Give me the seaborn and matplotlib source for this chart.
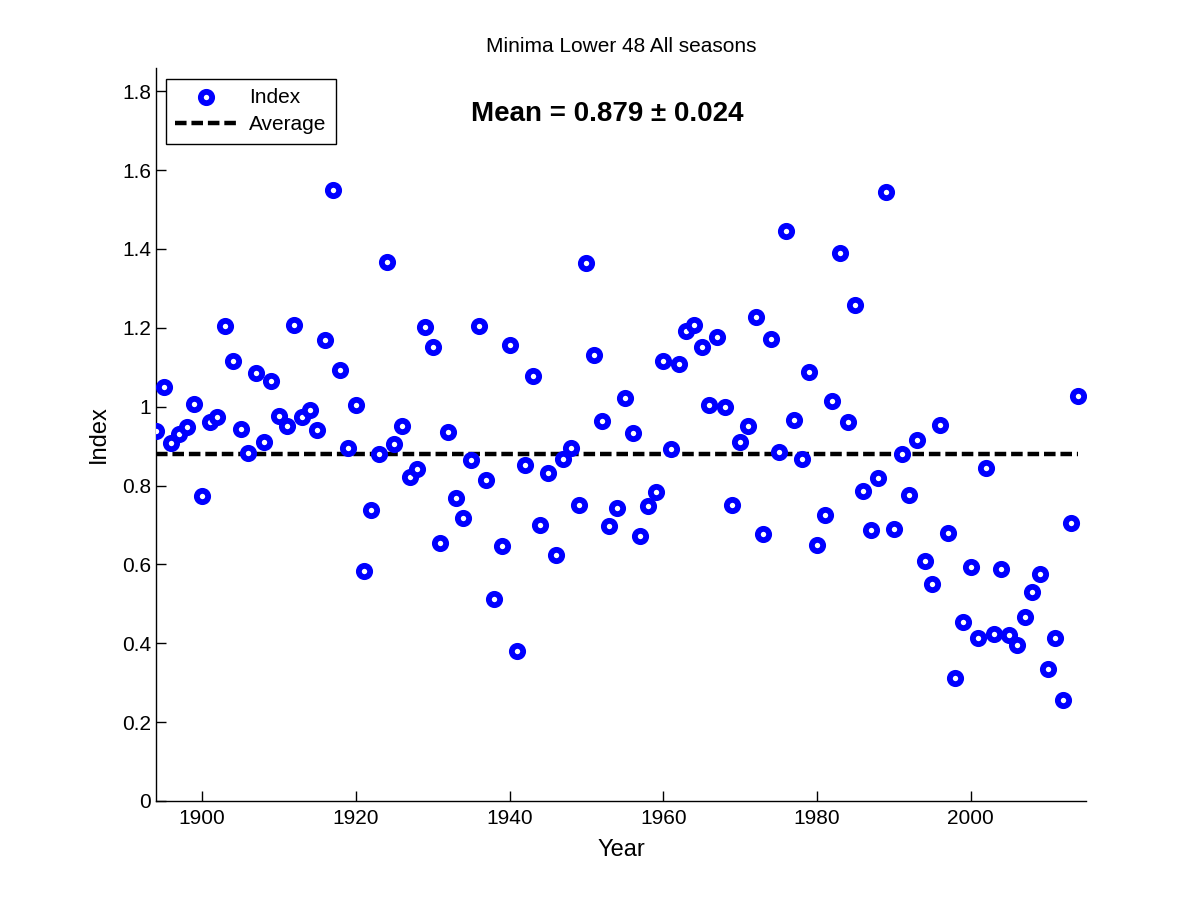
import matplotlib
matplotlib.use("Agg")
import matplotlib.pyplot as plt
import numpy as np
import pandas as pd
import seaborn as sns

years = list(range(1894, 2015))
index_vals = [
    0.938, 1.051, 0.907, 0.930, 0.949, 1.006, 0.773, 0.961, 0.973, 1.205,
    1.115, 0.943, 0.882, 1.085, 0.910, 1.066, 0.976, 0.952, 1.206, 0.973,
    0.991, 0.940, 1.169, 1.550, 1.093, 0.896, 1.004, 0.583, 0.737, 0.880,
    1.366, 0.905, 0.950, 0.821, 0.841, 1.202, 1.151, 0.654, 0.935, 0.768,
    0.717, 0.864, 1.205, 0.814, 0.512, 0.646, 1.156, 0.380, 0.851, 1.077,
    0.700, 0.831, 0.623, 0.868, 0.896, 0.750, 1.364, 1.130, 0.963, 0.697,
    0.742, 1.021, 0.933, 0.672, 0.748, 0.783, 1.116, 0.892, 1.108, 1.191,
    1.206, 1.151, 1.004, 1.176, 0.998, 0.750, 0.910, 0.950, 1.227, 0.677,
    1.171, 0.884, 1.445, 0.965, 0.867, 1.087, 0.648, 0.725, 1.014, 1.389,
    0.960, 1.257, 0.785, 0.687, 0.818, 1.544, 0.689, 0.880, 0.775, 0.915,
    0.608, 0.550, 0.954, 0.679, 0.311, 0.453, 0.593, 0.413, 0.844, 0.424,
    0.588, 0.422, 0.396, 0.466, 0.529, 0.575, 0.334, 0.413, 0.255, 0.704,
    1.026,
]
mean_val = 0.879
mean_err = 0.024
y_ticks = [0, 0.2, 0.4, 0.6, 0.8, 1.0, 1.2, 1.4, 1.6, 1.8]
x_ticks = [1900, 1920, 1940, 1960, 1980, 2000]

sns.set_style("white", {"xtick.bottom": True, "ytick.left": True,
                        "text.color": "black", "axes.labelcolor": "black",
                        "xtick.color": "black", "ytick.color": "black",
                        "axes.edgecolor": "black"})
plt.rcParams["font.family"] = ["Liberation Sans", "DejaVu Sans"]

df = pd.DataFrame({"Year": years, "Index": index_vals})
df["Average"] = mean_val

fig = plt.figure(figsize=(12, 9), dpi=100)
ax = fig.add_axes([0.13, 0.11, 0.775, 0.815])

sns.scatterplot(
    data=df, x="Year", y="Index", ax=ax, s=66, marker="o",
    facecolor="white", edgecolor="#0000ff", linewidth=4.2,
    label="Index", zorder=3,
)
sns.lineplot(
    data=df, x="Year", y="Average", ax=ax, color="black",
    linewidth=3.2, label="Average", zorder=2,
)
ax.lines[-1].set_dashes((2.6, 1.1))

ax.set_xlim(1894, 2015)
ax.set_ylim(0, 1.86)
ax.set_xticks(x_ticks)
ax.set_yticks(y_ticks)
ax.set_yticklabels([f"{v:g}" for v in y_ticks])
ax.tick_params(direction="in", length=7, width=1, labelsize=15, colors="black")
ax.tick_params(axis="x", pad=6)
for side in ["top", "right"]:
    ax.spines[side].set_visible(False)
for side in ["left", "bottom"]:
    ax.spines[side].set_color("black")
    ax.spines[side].set_linewidth(1)

ax.set_xlabel("Year", fontsize=17, labelpad=8)
ax.set_ylabel("Index", fontsize=17, labelpad=9)
ax.set_title("Minima Lower 48 All seasons", fontsize=15, pad=11)

ax.text(0.485, 0.936, f"Mean = {mean_val:.3f} \u00b1 {mean_err:.3f}",
        transform=ax.transAxes, ha="center", va="center",
        fontsize=20, fontweight="bold")

leg = ax.legend(loc="upper left", bbox_to_anchor=(0.0105, 0.985), fontsize=15,
                frameon=True, fancybox=False, borderpad=0.45, labelspacing=0.4,
                handlelength=3.0, handletextpad=0.55, borderaxespad=0)
leg.get_frame().set_edgecolor("black")
leg.get_frame().set_linewidth(1)
leg.get_frame().set_alpha(1)

fig.savefig("out.png", dpi=100)
